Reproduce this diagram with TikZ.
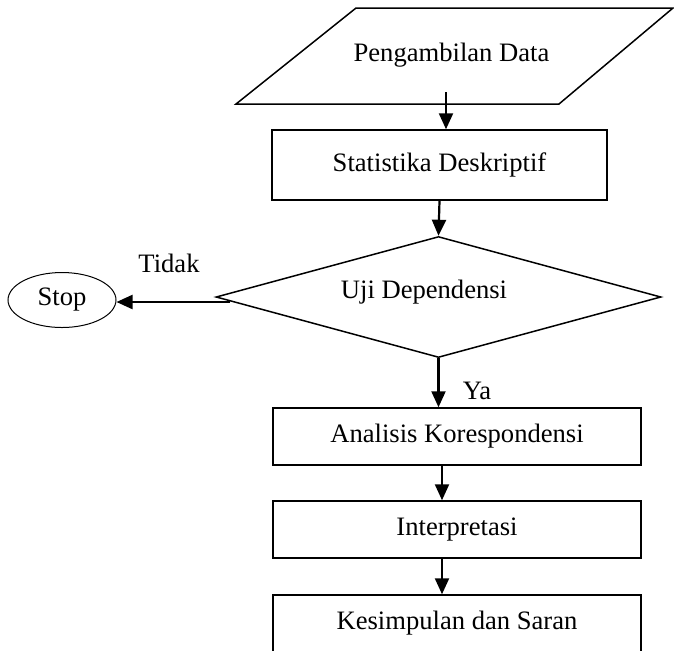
\documentclass[tikz,border=0pt]{standalone}
\usepackage{fontspec}
\setmainfont{Liberation Serif}
\usetikzlibrary{arrows.meta,shapes.geometric,calc}

\begin{document}
\begin{tikzpicture}[x=0.5pt, y=-0.5pt,
        font=\fontsize{13.3}{16}\selectfont,
        kotak/.style={draw, line width=0.75pt, inner sep=0pt},
        panah/.style={draw, line width=1.1pt, -{Triangle[length=8pt, width=7pt]}}]
        \useasboundingbox (0,0) rectangle (674,650);
        \clip (0,0) rectangle (674,650);
        % input data
        \coordinate (d1) at (356,8);
        \coordinate (d2) at (673,8);
        \coordinate (d3) at (559,104);
        \coordinate (d4) at (236,104);
        \path[draw, line width=0.75pt] (d1)--(d2)--(d3)--(d4)--cycle;
        \node (data) at (451.5,55) {Pengambilan Data};
        \coordinate (p1) at (446,92);
        % proses
        \node[kotak, minimum width=167.5pt, minimum height=35pt] (stat) at (439.5,165) {Statistika Deskriptif};
        \node[draw, line width=0.75pt, shape=diamond, aspect=3.7, inner sep=0pt,
              minimum width=222.5pt, minimum height=60.5pt] (uji) at (438.5,297) {};
        \node (ujiteks) at (424,292) {Uji Dependensi};
        \node[draw, line width=0.5pt, shape=ellipse, inner sep=0pt,
              minimum width=54pt, minimum height=27.5pt] (stop) at (62,300) {Stop};
        \node[kotak, minimum width=184pt, minimum height=28.5pt] (anakor) at (457,436.5) {Analisis Korespondensi};
        \node[kotak, minimum width=184pt, minimum height=28.5pt] (interp) at (457,529.5) {Interpretasi};
        \node[kotak, minimum width=184pt, minimum height=28.5pt] (simpul) at (457,623.5) {Kesimpulan dan Saran};
        % label
        \node (tidak) at (169,263) {Tidak};
        \node (ya) at (477,391) {Ya};
        % panah
        \coordinate (t1) at (230,302);
        \coordinate (sumbu) at (442,0);
        \path[panah] (p1) to (p1 |- stat.north);
        \path[panah] (stat.south) to (uji.north);
        \path[panah] (t1) to (stop.east |- t1);
        \path[panah] (uji.south) to (uji.south |- anakor.north);
        \path[panah] (anakor.south -| sumbu) to (interp.north -| sumbu);
        \path[panah] (interp.south -| sumbu) to (simpul.north -| sumbu);
    \end{tikzpicture}
\end{document}
